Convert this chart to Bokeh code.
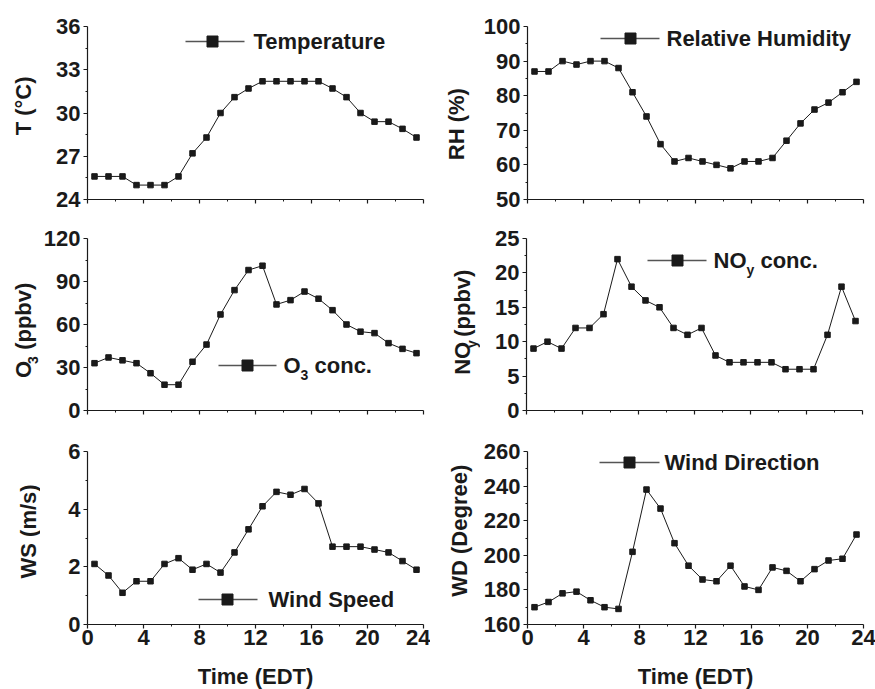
import math
from bokeh.plotting import figure
from bokeh.layouts import column, row
from bokeh.models import Range1d, FixedTicker, Label
from bokeh.embed import file_html
from bokeh.resources import INLINE

# ---------------- data ----------------
hours = [0.5, 1.5, 2.5, 3.5, 4.5, 5.5, 6.5, 7.5, 8.5, 9.5, 10.5, 11.5,
         12.5, 13.5, 14.5, 15.5, 16.5, 17.5, 18.5, 19.5, 20.5, 21.5, 22.5, 23.5]
temperature = [25.6, 25.6, 25.6, 25.0, 25.0, 25.0, 25.6, 27.2, 28.3, 30.0, 31.1, 31.7,
               32.2, 32.2, 32.2, 32.2, 32.2, 31.7, 31.1, 30.0, 29.4, 29.4, 28.9, 28.3]
rel_humidity = [87, 87, 90, 89, 90, 90, 88, 81, 74, 66, 61, 62,
                61, 60, 59, 61, 61, 62, 67, 72, 76, 78, 81, 84]
o3_conc = [33, 37, 35, 33, 26, 18, 18, 34, 46, 67, 84, 98,
           101, 74, 77, 83, 78, 70, 60, 55, 54, 47, 43, 40]
noy_conc = [9, 10, 9, 12, 12, 14, 22, 18, 16, 15, 12, 11,
            12, 8, 7, 7, 7, 7, 6, 6, 6, 11, 18, 13]
wind_speed = [2.1, 1.7, 1.1, 1.5, 1.5, 2.1, 2.3, 1.9, 2.1, 1.8, 2.5, 3.3,
              4.1, 4.6, 4.5, 4.7, 4.2, 2.7, 2.7, 2.7, 2.6, 2.5, 2.2, 1.9]
wind_dir = [170, 173, 178, 179, 174, 170, 169, 202, 238, 227, 207, 194,
            186, 185, 194, 182, 180, 193, 191, 185, 192, 197, 198, 212]

x_ticks = [0, 4, 8, 12, 16, 20, 24]
x_minor = [2, 6, 10, 14, 18, 22]
t_ticks = [24, 27, 30, 33, 36]
rh_ticks = [50, 60, 70, 80, 90, 100]
o3_ticks = [0, 30, 60, 90, 120]
noy_ticks = [0, 5, 10, 15, 20, 25]
ws_ticks = [0, 2, 4, 6]
wd_ticks = [160, 180, 200, 220, 240, 260]

FONT = "Liberation Sans"
INK = "#1a1a1a"
BIG = 22
SUB = 14

# Arial-bold advance widths (per em) for composite texts
W = {"N": .722, "O": .778, "y": .556, " ": .278, "(": .333, ")": .333, "p": .611,
     "b": .611, "v": .556, "c": .556, "o": .611, "n": .611, ".": .278, "3": .556}


def tw(s, size):
    return sum(W.get(ch, .6) for ch in s) * size


ROW_TOP = [0, 218, 430]
ROW_H = [218, 212, 259]
FT = [26, 238, 451]
FH = [173, 172, 173]
LAB_W = [40, 50]          # widths of the strips that hold the y-axis titles
COL_LEFT = [0, 430]


def label_strip(col, rw, spec):
    w = LAB_W[col]
    h = ROW_H[rw]
    s = figure(width=w, height=h, min_border=0, x_range=Range1d(0, w), y_range=Range1d(0, h),
               x_axis_location=None, y_axis_location=None, output_backend="svg",
               toolbar_location=None, tools="", title=None)
    s.outline_line_color = None
    s.grid.visible = False
    s.background_fill_color = "white"
    s.border_fill_color = "white"
    pieces, (cx, cy) = spec
    x = cx - COL_LEFT[col]
    y = h - (cy - ROW_TOP[rw])
    if len(pieces) == 1:
        text, size, _, _ = pieces[0]
        s.add_layout(Label(x=x, y=y, text=text, text_font=FONT, text_font_style="bold",
                           text_font_size=f"{size}px", text_color=INK, angle=math.pi / 2,
                           text_align="center", text_baseline="middle"))
        return s
    total = sum(tw(t, sz) + g for t, sz, _, g in pieces)
    along = y - total / 2.0
    for text, size, shift, gap in pieces:
        along += gap
        s.add_layout(Label(x=x + shift, y=along, text=text, text_font=FONT, text_font_style="bold",
                           text_font_size=f"{size}px", text_color=INK, angle=math.pi / 2,
                           text_align="left", text_baseline="middle"))
        along += tw(text, size)
    return s


def make_panel(col, rw, yr, yticks, series, legend, bottom_labels):
    fl = 87 if col == 0 else 526
    bl = (87 if col == 0 else 96) - LAB_W[col]
    br = 7 if col == 0 else 13
    ft = FT[rw]
    fh = FH[rw]
    bt = [26, 20, 21][rw]
    bb = [19, 20, 65][rw]
    fw = 336
    p = figure(frame_width=fw, frame_height=fh, min_border_left=bl, min_border_right=br,
               min_border_top=bt, min_border_bottom=bb,
               x_range=Range1d(0, 24), y_range=Range1d(yr[0], yr[1]),
               output_backend="svg", toolbar_location=None, tools="", title=None)
    p.outline_line_color = None
    p.grid.visible = False
    p.background_fill_color = "white"
    p.border_fill_color = "white"

    step = yticks[1] - yticks[0]
    y_minor = [t + step / 2 for t in yticks[:-1]]
    p.yaxis.ticker = FixedTicker(ticks=yticks, minor_ticks=y_minor)
    p.xaxis.ticker = FixedTicker(ticks=x_ticks, minor_ticks=x_minor)
    for ax in p.axis:
        ax.axis_line_color = INK
        ax.axis_line_width = 1.2
        ax.major_tick_line_color = INK
        ax.major_tick_line_width = 1.2
        ax.minor_tick_line_color = INK
        ax.major_tick_out = 4
        ax.major_tick_in = 0
        ax.minor_tick_out = 2
        ax.minor_tick_in = 0
        ax.major_label_text_font = FONT
        ax.major_label_text_font_style = "bold"
        ax.major_label_text_font_size = f"{BIG}px"
        ax.major_label_text_color = INK
    p.yaxis.major_label_standoff = 3
    if bottom_labels:
        p.xaxis.major_label_standoff = 1
        p.xaxis.axis_label = "Time (EDT)"
        p.xaxis.axis_label_text_font = FONT
        p.xaxis.axis_label_text_font_style = "bold"
        p.xaxis.axis_label_text_font_size = f"{BIG}px"
        p.xaxis.axis_label_text_color = INK
        p.xaxis.axis_label_standoff = 16
    else:
        p.xaxis.major_label_text_font_size = "0px"
        p.xaxis.major_label_overrides = {t: "" for t in x_ticks}
        p.xaxis.major_label_standoff = 0

    def to_data(cx, cy):
        x = (cx - fl) / fw * 24.0
        y = yr[1] - (cy - ft) / fh * (yr[1] - yr[0])
        return x, y

    # data series
    p.line(hours, series, line_color=INK, line_width=1)
    p.scatter(hours, series, marker="square", size=5.5, fill_color=INK, line_color=INK)

    # manual legend: line x0..x1, marker xm, text start xt, centre y
    lx0, lx1, lxm, ltx, ly, pieces = legend
    a = to_data(lx0, ly)
    b = to_data(lx1, ly)
    m = to_data(lxm, ly)
    p.line([a[0], b[0]], [a[1], b[1]], line_color="#555555", line_width=1.3)
    p.scatter([m[0]], [m[1]], marker="square", size=11, fill_color=INK, line_color=INK)
    cx = ltx
    for text, size, shift, gap in pieces:
        cx += gap
        dx, dy = to_data(cx, ly + shift)
        p.add_layout(Label(x=dx, y=dy, text=text, text_font=FONT, text_font_style="bold",
                           text_font_size=f"{size}px", text_color=INK,
                           text_align="left", text_baseline="middle"))
        cx += tw(text, size)
    return p


SP = W[" "] * BIG

p_t = make_panel(0, 0, (24, 36), t_ticks, temperature,
                 (185, 244, 212, 253, 41, [("Temperature", BIG, 0, 0)]), False)
p_rh = make_panel(1, 0, (50, 100), rh_ticks, rel_humidity,
                  (599, 658, 629, 665, 38, [("Relative Humidity", BIG, 0, 0)]), False)
p_o3 = make_panel(0, 1, (0, 120), o3_ticks, o3_conc,
                  (218, 276, 247, 283, 365, [("O", BIG, 0, 0), ("3", SUB, 9, 0), ("conc.", BIG, 0, SP)]),
                  False)
p_noy = make_panel(1, 1, (0, 25), noy_ticks, noy_conc,
                   (647, 706, 677, 713, 260, [("NO", BIG, 0, 0), ("y", SUB, 9, 0), ("conc.", BIG, 0, SP)]),
                   False)
p_ws = make_panel(0, 2, (0, 6), ws_ticks, wind_speed,
                  (198, 257, 227, 268, 599, [("Wind Speed", BIG, 0, 0)]), True)
p_wd = make_panel(1, 2, (160, 260), wd_ticks, wind_dir,
                  (598, 658, 628, 663, 462, [("Wind Direction", BIG, 0, 0)]), True)

s_t = label_strip(0, 0, ([("T (\u00b0C)", BIG, 0, 0)], (23, 100)))
s_rh = label_strip(1, 0, ([("RH (%)", BIG, 0, 0)], (456, 123)))
s_o3 = label_strip(0, 1, ([("O", BIG, 0, 0), ("3", SUB, 9, 0), ("(ppbv)", BIG, 0, SP * 1.6)], (23, 339)))
s_noy = label_strip(1, 1, ([("NO", BIG, 0, 0), ("y", SUB, 9, 0), ("(ppbv)", BIG, 0, SP)], (462, 329)))
s_ws = label_strip(0, 2, ([("WS (m/s)", BIG, 0, 0)], (28, 551)))
s_wd = label_strip(1, 2, ([("WD (Degree)", BIG, 0, 0)], (459, 550)))

layout = column(row(s_t, p_t, s_rh, p_rh),
                row(s_o3, p_o3, s_noy, p_noy),
                row(s_ws, p_ws, s_wd, p_wd))
open("out.html", "w").write(file_html(layout, INLINE))
